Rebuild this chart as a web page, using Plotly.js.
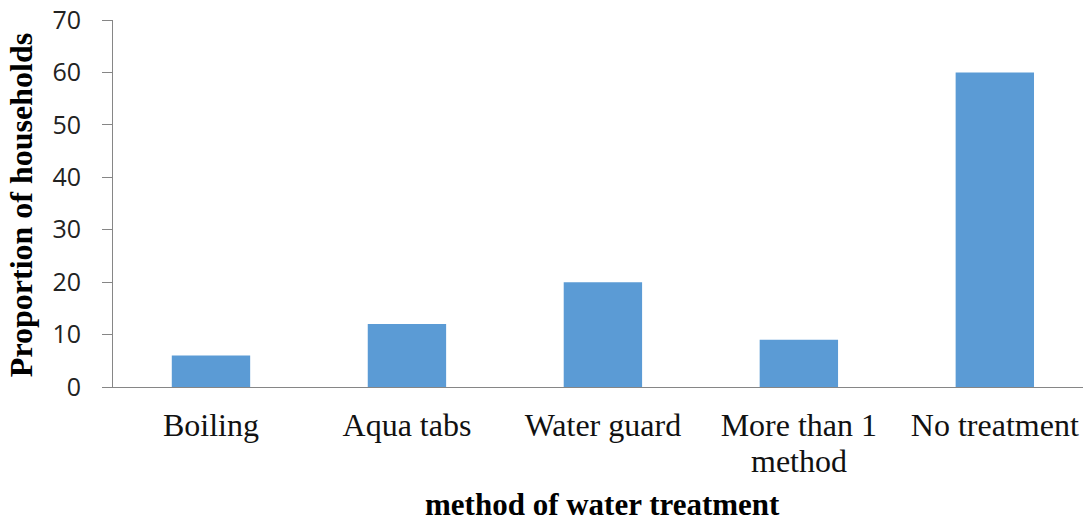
<!DOCTYPE html>
<html>
<head>
<meta charset="utf-8">
<script src="https://cdn.plot.ly/plotly-3.0.1.min.js"></script>
<style>html,body{margin:0;padding:0;background:#fff;overflow:hidden;}#chart{width:1083px;height:526px;}</style>
</head>
<body>
<div id="chart"></div>
<script>
const categories = ["Boiling", "Aqua tabs", "Water guard", "More than 1 method", "No treatment"];
const tickFirstLines = ["Boiling", "Aqua tabs", "Water guard", "More than 1", "No treatment"];
const tickSecondLines = ["", "", "", "method", ""];
const proportions = [6, 12, 20, 9, 60];
const yTicks = [0, 10, 20, 30, 40, 50, 60, 70];
const xTitle = "method of water treatment";
const yTitle = "Proportion of households";

const serif = "Liberation Serif, Times New Roman, serif";

const trace = {
  type: "bar",
  x: categories,
  y: proportions,
  marker: {color: "#5B9BD5"},
  width: 0.4,
  hoverinfo: "skip"
};

const annotations = [
  {
    text: "<b>" + xTitle + "</b>",
    xref: "x", yref: "paper",
    x: 2, y: -0.319,
    xanchor: "center", yanchor: "middle",
    showarrow: false,
    font: {family: serif, size: 31, color: "#000"}
  },
  {
    text: "<b>" + yTitle + "</b>",
    xref: "paper", yref: "paper",
    x: -0.094, y: 0.495,
    xanchor: "center", yanchor: "middle",
    textangle: -90,
    showarrow: false,
    font: {family: serif, size: 32, color: "#000"}
  }
];
tickSecondLines.forEach(function (t, i) {
  if (t) {
    annotations.push({
      text: t,
      xref: "x", yref: "paper",
      x: categories[i], y: -0.202,
      xanchor: "center", yanchor: "middle",
      showarrow: false,
      font: {family: serif, size: 32, color: "#111"}
    });
  }
});

const layout = {
  width: 1083,
  height: 526,
  margin: {l: 113, r: 0, t: 20, b: 139},
  paper_bgcolor: "#fff",
  plot_bgcolor: "#fff",
  showlegend: false,
  xaxis: {
    type: "category",
    range: [-0.5, 4.45],
    tickvals: categories,
    ticktext: tickFirstLines,
    showline: true,
    linecolor: "#868686",
    linewidth: 1,
    showgrid: false,
    zeroline: false,
    ticks: "",
    tickfont: {family: serif, size: 32, color: "#111"},
    ticklabelstandoff: 10,
    tickangle: 0
  },
  yaxis: {
    range: [0, 70],
    tickvals: yTicks,
    ticktext: yTicks.map(String),
    showline: true,
    linecolor: "#868686",
    linewidth: 1,
    showgrid: false,
    zeroline: false,
    ticks: "outside",
    ticklen: 10,
    tickcolor: "#868686",
    tickfont: {family: "Open Sans, Liberation Sans, sans-serif", size: 25, color: "#222"},
    ticklabelstandoff: 16
  },
  annotations: annotations
};

Plotly.newPlot("chart", [trace], layout, {staticPlot: true, displayModeBar: false});
</script>
</body>
</html>
